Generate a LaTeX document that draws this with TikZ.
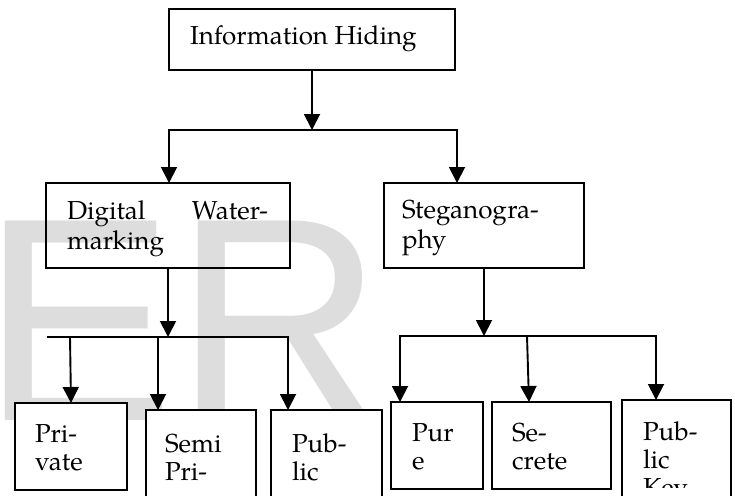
\documentclass[tikz,border=0pt]{standalone}
\usepackage{fontspec}
\setmainfont{TeX Gyre Pagella}
\newfontfamily\wmfont{Liberation Sans}
\usetikzlibrary{arrows.meta}
\definecolor{wmgray}{RGB}{221,221,221}
\newcommand{\fsTop}{\fontsize{26}{30}\selectfont}
\newcommand{\fsBot}{\fontsize{26}{28}\selectfont}
\newcommand{\boxlines}[1]{\begin{tabular}[t]{@{}l@{}}#1\end{tabular}}
\tikzset{
  box/.style={draw=black, line width=1.8pt, rectangle, inner sep=0pt, outer sep=0pt},
  wbox/.style={box, fill=white},
  txt/.style={anchor=base west, inner sep=0pt, outer sep=0pt, text=black},
  ln/.style={line width=1.9pt},
  arr/.style={line width=1.9pt, -{Triangle[width=16pt,length=16pt]}},
}
\begin{document}
\begin{tikzpicture}[x=1pt,y=-1pt]
\useasboundingbox (0,0) rectangle (735,495);
\fill[white] (0,0) rectangle (735,495);
% watermark
\node[anchor=base west, inner sep=0pt, text=wmgray, font=\wmfont\fontsize{290}{290}\selectfont] (wm) at (-19,420) {ER};
% boxes
\node[box, minimum width=286pt, minimum height=61pt] (ih) at (312,39.5) {};
\node[box, minimum width=244pt, minimum height=85pt] (dw) at (168,225.5) {};
\node[box, minimum width=200pt, minimum height=85pt] (st) at (484,225.5) {};
\node[wbox, minimum width=112pt, minimum height=87pt] (pv) at (71,446.5) {};
\node[wbox, minimum width=110pt, minimum height=100pt] (sp) at (201,460) {};
\node[wbox, minimum width=111pt, minimum height=100pt] (pb) at (326.5,460) {};
\node[wbox, minimum width=92pt, minimum height=87pt] (pu) at (437,445.5) {};
\node[wbox, minimum width=119pt, minimum height=87pt] (sc) at (551.5,445.5) {};
\node[wbox, minimum width=109pt, minimum height=110pt] (pk) at (676.5,455) {};
% texts
\node[txt, font=\fsTop] (tih) at (190,45) {Information Hiding};
\node[txt, font=\fsTop] (tdw) at (67,219) {\boxlines{\makebox[201pt][l]{Digital\hfill Water-}\\marking}};
\node[txt, font=\fsTop] (tst) at (402,218) {\boxlines{Steganogra-\\phy}};
\node[txt, font=\fsBot] (tpv) at (35,442) {\boxlines{Pri-\\vate}};
\node[txt, font=\fsBot] (tsp) at (165,452) {\boxlines{Semi\\Pri-}};
\node[txt, font=\fsBot] (tpb) at (292,452) {\boxlines{Pub-\\lic}};
\node[txt, font=\fsBot] (tpu) at (412,441) {\boxlines{Pur\\e}};
\node[txt, font=\fsBot] (tsc) at (512,441) {\boxlines{Se-\\crete}};
\begin{scope}
  \clip (622,400) rectangle (731,487);
  \node[txt, font=\fsBot] (tpk) at (643,440) {\boxlines{Pub-\\lic\\Key}};
\end{scope}
% bus coordinates
\coordinate (b1m) at (ih.south |- 0,130);
\coordinate (b1l) at (169,130);
\coordinate (b1r) at (457,130);
\coordinate (b2m) at (dw.south |- 0,337);
\coordinate (b2l) at (47,337);
\coordinate (b2a) at (70,337);
\coordinate (b2b) at (158,337);
\coordinate (b2r) at (288,337);
\coordinate (b3m) at (484,336);
\coordinate (b3l) at (400,336);
\coordinate (b3b) at (527,336);
\coordinate (b3r) at (656,336);
% connectors level 1
\draw[arr] (ih.south) -- (b1m);
\draw[arr] (b1r) -- (b1l) -- (b1l |- dw.north);
\draw[arr] (b1l) -- (b1r) -- (b1r |- st.north);
% level 2 (watermarking)
\draw[arr] (dw.south) -- (b2m);
\draw[ln] (b2l) -- (b2r);
\draw[arr] (b2a) -- (pv.north);
\draw[arr] (b2b) -- (b2b |- sp.north);
\draw[arr] (b2l) -- (b2r) -- (b2r |- pb.north);
% level 2 (steganography)
\draw[arr] (st.south) -- (b3m);
\draw[arr] (b3r) -- (b3l) -- (b3l |- pu.north);
\draw[arr] (b3b) -- ([xshift=2pt]b3b |- sc.north);
\draw[arr] (b3l) -- (b3r) -- (b3r |- pk.north);
\end{tikzpicture}
\end{document}
